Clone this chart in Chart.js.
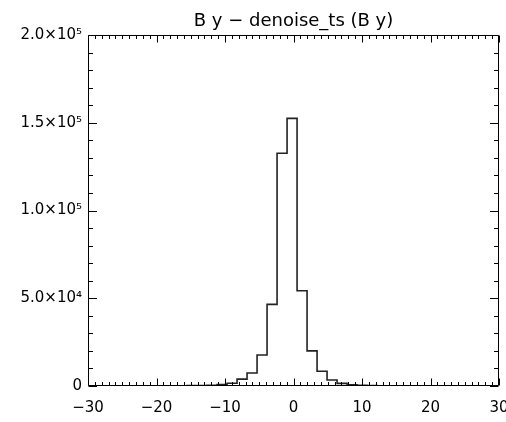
<!DOCTYPE html>
<html>
<head>
<meta charset="utf-8">
<script src="https://cdn.jsdelivr.net/npm/chart.js@4/dist/chart.umd.min.js"></script>
<style>
    html, body { margin: 0; padding: 0; background: #fff; }
    #wrap { width: 506px; height: 422px; }
</style>
</head>
<body>
<div id="wrap"><canvas id="histChart" width="506" height="422"></canvas></div>
<script>
// Histogram of B y - denoise_ts (B y)

const chartTitle = 'B y \u2212 denoise_ts (B y)';

// bin edges (23) and counts (22)
const binEdges = [-17.00, -15.54, -14.08, -12.62, -11.16, -9.70, -8.24, -6.78, -5.32, -3.86, -2.40,
    -0.94, 0.52, 1.98, 3.44, 4.90, 6.36, 7.82, 9.28, 10.74, 12.20, 13.66, 15.12];
const binCounts = [150, 200, 300, 450, 800, 1600, 3900, 7400, 17700, 46500, 132600,
    152500, 54300, 20000, 8400, 3400, 1500, 650, 350, 250, 150, 100];

const xTicks = [-30, -20, -10, 0, 10, 20, 30];
const yTicks = [0, 50000, 100000, 150000, 200000];
const yTickLabels = ['0', '5.0\u00d710\u2074', '1.0\u00d710\u2075', '1.5\u00d710\u2075', '2.0\u00d710\u2075'];

const axisFont = { family: 'DejaVu Sans', size: 15 };

// step points: each bin starts at its left edge, last one closes at the final edge
const stepPoints = binEdges.map((x, i) => ({ x: x, y: binCounts[Math.min(i, binCounts.length - 1)] }));

// frame, inward ticks and title
const framePlugin = {
    id: 'idlFrame',
    afterDraw(chart) {
        const ctx = chart.ctx;
        const a = chart.chartArea;
        const xs = chart.scales.x;
        const ys = chart.scales.y;
        const L = Math.round(a.left) + 0.5, R = Math.round(a.right) - 0.5;
        const T = Math.round(a.top) + 0.5, B = Math.round(a.bottom) - 0.5;

        ctx.save();
        ctx.strokeStyle = '#000';
        ctx.lineWidth = 1;
        ctx.beginPath();
        ctx.rect(L, T, R - L, B - T);

        // x ticks (minor every 1, major every 10)
        for (let v = -30; v <= 30; v++) {
            const px = Math.round(xs.getPixelForValue(v)) + 0.5;
            const len = (v % 10 === 0) ? 7 : 3.5;
            ctx.moveTo(px, B); ctx.lineTo(px, B - len);
            ctx.moveTo(px, T); ctx.lineTo(px, T + len);
        }
        // y ticks (minor every 1e4, major every 5e4)
        for (let v = 0; v <= 200000; v += 10000) {
            const py = Math.round(ys.getPixelForValue(v)) + 0.5;
            const len = (v % 50000 === 0) ? 8.5 : 4.5;
            ctx.moveTo(L, py); ctx.lineTo(L + len, py);
            ctx.moveTo(R, py); ctx.lineTo(R - len, py);
        }
        ctx.stroke();

        ctx.fillStyle = '#000';
        ctx.font = '18px "DejaVu Sans"';
        ctx.textAlign = 'center';
        ctx.textBaseline = 'alphabetic';
        ctx.fillText(chartTitle, (a.left + a.right) / 2, 26);
        ctx.restore();
    }
};

function initHistChart() {
    const ctx = document.getElementById('histChart');

    new Chart(ctx, {
        type: 'line',
        data: {
            datasets: [{
                data: stepPoints,
                stepped: 'before',
                borderColor: '#222',
                borderWidth: 1.6,
                pointRadius: 0,
                fill: false
            }]
        },
        options: {
            responsive: false,
            animation: false,
            layout: { padding: { top: 35, right: 7, left: 0, bottom: 0 } },
            plugins: {
                legend: { display: false },
                tooltip: { enabled: false },
                title: { display: false }
            },
            scales: {
                x: {
                    type: 'linear',
                    min: -30,
                    max: 30,
                    grid: { display: false, drawTicks: false },
                    border: { display: false },
                    afterBuildTicks: (s) => { s.ticks = xTicks.map(v => ({ value: v })); },
                    afterFit: (s) => { s.height = 36; s.paddingLeft = 0; s.paddingRight = 0; },
                    ticks: {
                        color: '#000',
                        font: axisFont,
                        padding: 13,
                        maxRotation: 0,
                        callback: (v) => v < 0 ? '\u2212' + Math.abs(v) : String(v)
                    }
                },
                y: {
                    min: 0,
                    max: 200000,
                    grid: { display: false, drawTicks: false },
                    border: { display: false },
                    afterBuildTicks: (s) => { s.ticks = yTicks.map(v => ({ value: v })); },
                    afterFit: (s) => { s.width = 88; s.paddingTop = 0; s.paddingBottom = 0; },
                    ticks: {
                        color: '#000',
                        font: axisFont,
                        padding: 6,
                        callback: (v) => yTickLabels[yTicks.indexOf(v)]
                    }
                }
            }
        },
        plugins: [framePlugin]
    });
}

initHistChart();
</script>
</body>
</html>
